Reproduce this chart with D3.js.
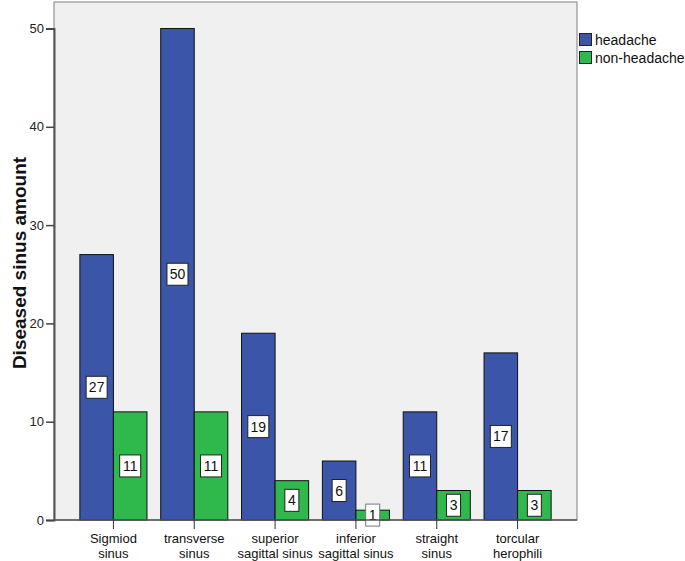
<!DOCTYPE html>
<html><head><meta charset="utf-8">
<script src="https://cdn.jsdelivr.net/npm/d3@7"></script>
<style>body{margin:0;background:#fff;} text{font-family:"Liberation Sans",Arial,sans-serif;}</style>
</head><body>
<svg id="c" width="685" height="561"></svg>
<script>
const categories = [["Sigmiod","sinus"],["transverse","sinus"],["superior","sagittal sinus"],["inferior","sagittal sinus"],["straight","sinus"],["torcular","herophili"]];
const seriesNames = ["headache","non-headache"];
const headache = [27,50,19,6,11,17];
const nonHeadache = [11,11,4,1,3,3];
const yTicks = [0,10,20,30,40,50];
const colors = ["#3b55a9","#2fb84b"];

const svg = d3.select("#c");
const L=54,R=577,T=2,B=520;
svg.append("rect").attr("x",L).attr("y",T).attr("width",R-L).attr("height",B-T).attr("fill","#f0f0f0").attr("stroke","#808080").attr("stroke-width",1);

const x = d3.scaleBand().domain(d3.range(categories.length)).range([L,R]).paddingInner(0.17).paddingOuter(0.32);
const x1 = d3.scaleBand().domain([0,1]).range([0,x.bandwidth()]);
const y = d3.scaleLinear().domain([0,50]).range([B,28.5]);

const data = [headache,nonHeadache];
data.forEach((vals,s)=>{
  const g = svg.append("g");
  g.selectAll("rect").data(vals).join("rect")
    .attr("x",(d,i)=>x(i)+x1(s)).attr("y",d=>y(d))
    .attr("width",x1.bandwidth()).attr("height",d=>B-y(d))
    .attr("fill",colors[s]).attr("stroke","#111").attr("stroke-width",1);
});
// labels
data.forEach((vals,s)=>{
  vals.forEach((d,i)=>{
    const cx = x(i)+x1(s)+x1.bandwidth()/2;
    const cy = (y(d)+B)/2;
    const txt = String(d);
    const w = txt.length>1?21:14;
    svg.append("rect").attr("x",cx-w/2).attr("y",cy-11).attr("width",w).attr("height",22)
      .attr("fill","#fff").attr("stroke", d===1?"#777":"#222").attr("stroke-width",1);
    svg.append("text").attr("x",cx).attr("y",cy+5).attr("text-anchor","middle")
      .attr("font-size",14).attr("fill","#111").text(txt);
  });
});

// axes
const ya = svg.append("g").attr("transform",`translate(${L},0)`)
  .call(d3.axisLeft(y).tickValues(yTicks).tickSize(8).tickPadding(2));
ya.select(".domain").attr("stroke","#555").attr("stroke-width",2);
ya.selectAll(".tick line").attr("stroke","#444").attr("stroke-width",1.5);
ya.selectAll(".tick text").attr("font-size",13).attr("fill","#222").attr("font-family","Liberation Sans, Arial, sans-serif");

const xa = svg.append("g").attr("transform",`translate(0,${B})`)
  .call(d3.axisBottom(x).tickSize(9).tickFormat(""));
xa.select(".domain").attr("stroke","#555").attr("stroke-width",1.5).attr("d",`M${L},0H${R}`);
xa.selectAll(".tick line").attr("stroke","#333");
categories.forEach((c,i)=>{
  const cx = x(i)+x.bandwidth()/2;
  c.forEach((line,k)=>{
    svg.append("text").attr("x",cx).attr("y",543+k*15).attr("text-anchor","middle")
      .attr("font-size",13).attr("fill","#111").text(line);
  });
});

svg.append("text").attr("transform","translate(26,263) rotate(-90)").attr("text-anchor","middle")
  .attr("font-size",19).attr("font-weight","bold").attr("fill","#111").text("Diseased sinus amount");

// legend
seriesNames.forEach((n,i)=>{
  svg.append("rect").attr("x",579.5).attr("y",33.5+i*18).attr("width",12).attr("height",12)
    .attr("fill",colors[i]).attr("stroke","#222");
  svg.append("text").attr("x",595).attr("y",45+i*18).attr("font-size",14).attr("fill","#111").text(n);
});
</script>
</body></html>
